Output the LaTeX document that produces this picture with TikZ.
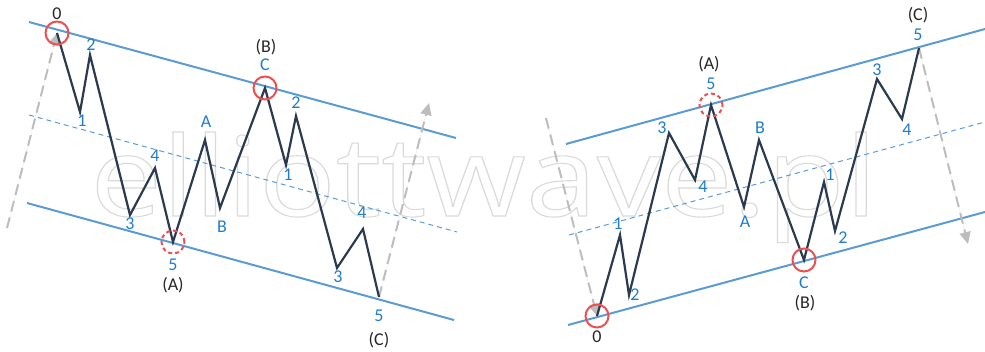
\documentclass[tikz,border=0pt]{standalone}
\usepackage{fontspec}
\setmainfont{Carlito}
\newfontfamily\wmfont{Open Sans}
\usetikzlibrary{arrows.meta}
\definecolor{chan}{HTML}{5B9BD5}
\definecolor{lbl}{HTML}{1F7CC8}
\definecolor{wave}{HTML}{2B3A4E}
\definecolor{circ}{HTML}{EE5050}
\definecolor{guide}{HTML}{BDBDBD}
\definecolor{wm}{HTML}{DADADA}
\newcommand{\outlinetext}[1]{\special{pdf:literal direct 1 Tr 1.1 w}#1\special{pdf:literal direct 0 Tr}}
\tikzset{
  chanline/.style={draw=chan, line width=2pt},
  midline/.style={draw=chan, line width=1pt, dash pattern=on 5pt off 4pt},
  waveline/.style={draw=wave, line width=2.2pt, line join=miter},
  guideline/.style={draw=guide, line width=2pt, dash pattern=on 11pt off 6pt, -{Triangle[length=12pt,width=11pt]}, fill=guide},
  solidcirc/.style={draw=circ, line width=2pt, circle, minimum size=23pt, inner sep=0pt},
  dashcirc/.style={draw=circ, line width=2pt, circle, minimum size=23pt, inner sep=0pt, dash pattern=on 4pt off 3pt},
  wlab/.style={text=lbl, font=\fontsize{18}{20}\selectfont, inner sep=0pt},
  blab/.style={text=black!85, font=\fontsize{18}{20}\selectfont, inner sep=0pt},
}
\begin{document}
\begin{tikzpicture}[x=1pt,y=-1pt]
\useasboundingbox (0,0) rectangle (985,351);
% watermark
\node[anchor=base west, inner sep=0pt, text=wm] (wmark) at (90,216)
  {\resizebox{787pt}{84pt}{\wmfont\fontsize{110}{110}\selectfont\outlinetext{elliottwave.pl}}};

% ---------- left picture ----------
\coordinate (LU1) at (29,22);  \coordinate (LU2) at (456,138);
\coordinate (LD1) at (27,203); \coordinate (LD2) at (454,320);
\coordinate (LM1) at (29,115); \coordinate (LM2) at (457,232);
\draw[chanline] (LU1) -- (LU2);
\draw[chanline] (LD1) -- (LD2);
\draw[midline] (LM1) -- (LM2);

\coordinate (L0) at (57,33);
\coordinate (L1) at (80,112);
\coordinate (L2) at (90,55);
\coordinate (L3) at (130,215);
\coordinate (L4) at (155,168);
\coordinate (L5) at (173,242);
\coordinate (LA) at (205,140);
\coordinate (LB) at (220,208);
\coordinate (LC) at (265,88);
\coordinate (Lc1) at (286,165);
\coordinate (Lc2) at (296,116);
\coordinate (Lc3) at (337,268);
\coordinate (Lc4) at (363,229);
\coordinate (Lc5) at (379,297);

\coordinate (LG1) at (7,228);
\coordinate (LG2) at (429,103);
\draw[guideline] (LG1) -- (L0);
\draw[guideline] (Lc5) -- (LG2);

\draw[waveline] (L0) -- (L1) -- (L2) -- (L3) -- (L4) -- (L5) -- (LA) -- (LB) -- (LC)
  -- (Lc1) -- (Lc2) -- (Lc3) -- (Lc4) -- (Lc5);

\node[solidcirc] (cL0) at (L0) {};
\node[dashcirc] (cL5) at (L5) {};
\node[solidcirc] (cLC) at (LC) {};

\node[blab] (tL0) at (57,14) {0};
\node[wlab] (tL2) at (91,45) {2};
\node[wlab] (tL1) at (82,121) {1};
\node[wlab] (tL3) at (130,224) {3};
\node[wlab] (tL4) at (155,156) {4};
\node[wlab] (tL5) at (173,265) {5};
\node[blab] (tLA5) at (173,285) {(A)};
\node[wlab] (tLA) at (206,122) {A};
\node[wlab] (tLB) at (222,227) {B};
\node[wlab] (tLC) at (265,65) {C};
\node[blab] (tLBB) at (266,47) {(B)};
\node[wlab] (tLc1) at (288,175) {1};
\node[wlab] (tLc2) at (296,103) {2};
\node[wlab] (tLc3) at (338,277) {3};
\node[wlab] (tLc4) at (362,213) {4};
\node[wlab] (tLc5) at (379,316) {5};
\node[blab] (tLCC) at (379,340) {(C)};

% ---------- right picture ----------
\coordinate (RU1) at (566,144); \coordinate (RU2) at (985,29);
\coordinate (RD1) at (568,325); \coordinate (RD2) at (985,212);
\coordinate (RM1) at (569,235); \coordinate (RM2) at (985,122);
\draw[chanline] (RU1) -- (RU2);
\draw[chanline] (RD1) -- (RD2);
\draw[midline] (RM1) -- (RM2);

\coordinate (R0) at (597,316);
\coordinate (R1) at (620,235);
\coordinate (R2) at (629,295);
\coordinate (R3) at (669,133);
\coordinate (R4) at (695,180);
\coordinate (R5) at (711,105);
\coordinate (RA) at (744,207);
\coordinate (RB) at (759,140);
\coordinate (RC) at (804,260);
\coordinate (Rc1) at (824,182);
\coordinate (Rc2) at (835,231);
\coordinate (Rc3) at (877,79);
\coordinate (Rc4) at (902,119);
\coordinate (Rc5) at (919,48);

\coordinate (RG1) at (546,118);
\coordinate (RG2) at (968,244);
\draw[guideline] (RG1) -- (R0);
\draw[guideline] (Rc5) -- (RG2);

\draw[waveline] (R0) -- (R1) -- (R2) -- (R3) -- (R4) -- (R5) -- (RA) -- (RB) -- (RC)
  -- (Rc1) -- (Rc2) -- (Rc3) -- (Rc4) -- (Rc5);

\node[solidcirc] (cR0) at (R0) {};
\node[dashcirc] (cR5) at (R5) {};
\node[solidcirc] (cRC) at (RC) {};

\node[blab] (tR0) at (597,337) {0};
\node[wlab] (tR1) at (618,224) {1};
\node[wlab] (tR2) at (635,295) {2};
\node[wlab] (tR3) at (662,128) {3};
\node[wlab] (tR4) at (703,187) {4};
\node[wlab] (tR5) at (711,84) {5};
\node[blab] (tRA5) at (709,64) {(A)};
\node[wlab] (tRA) at (745,222) {A};
\node[wlab] (tRB) at (760,128) {B};
\node[wlab] (tRC) at (804,283) {C};
\node[blab] (tRBB) at (805,303) {(B)};
\node[wlab] (tRc1) at (830,175) {1};
\node[wlab] (tRc2) at (843,238) {2};
\node[wlab] (tRc3) at (877,70) {3};
\node[wlab] (tRc4) at (907,130) {4};
\node[wlab] (tRc5) at (918,35) {5};
\node[blab] (tRCC) at (918,15) {(C)};
\end{tikzpicture}
\end{document}
